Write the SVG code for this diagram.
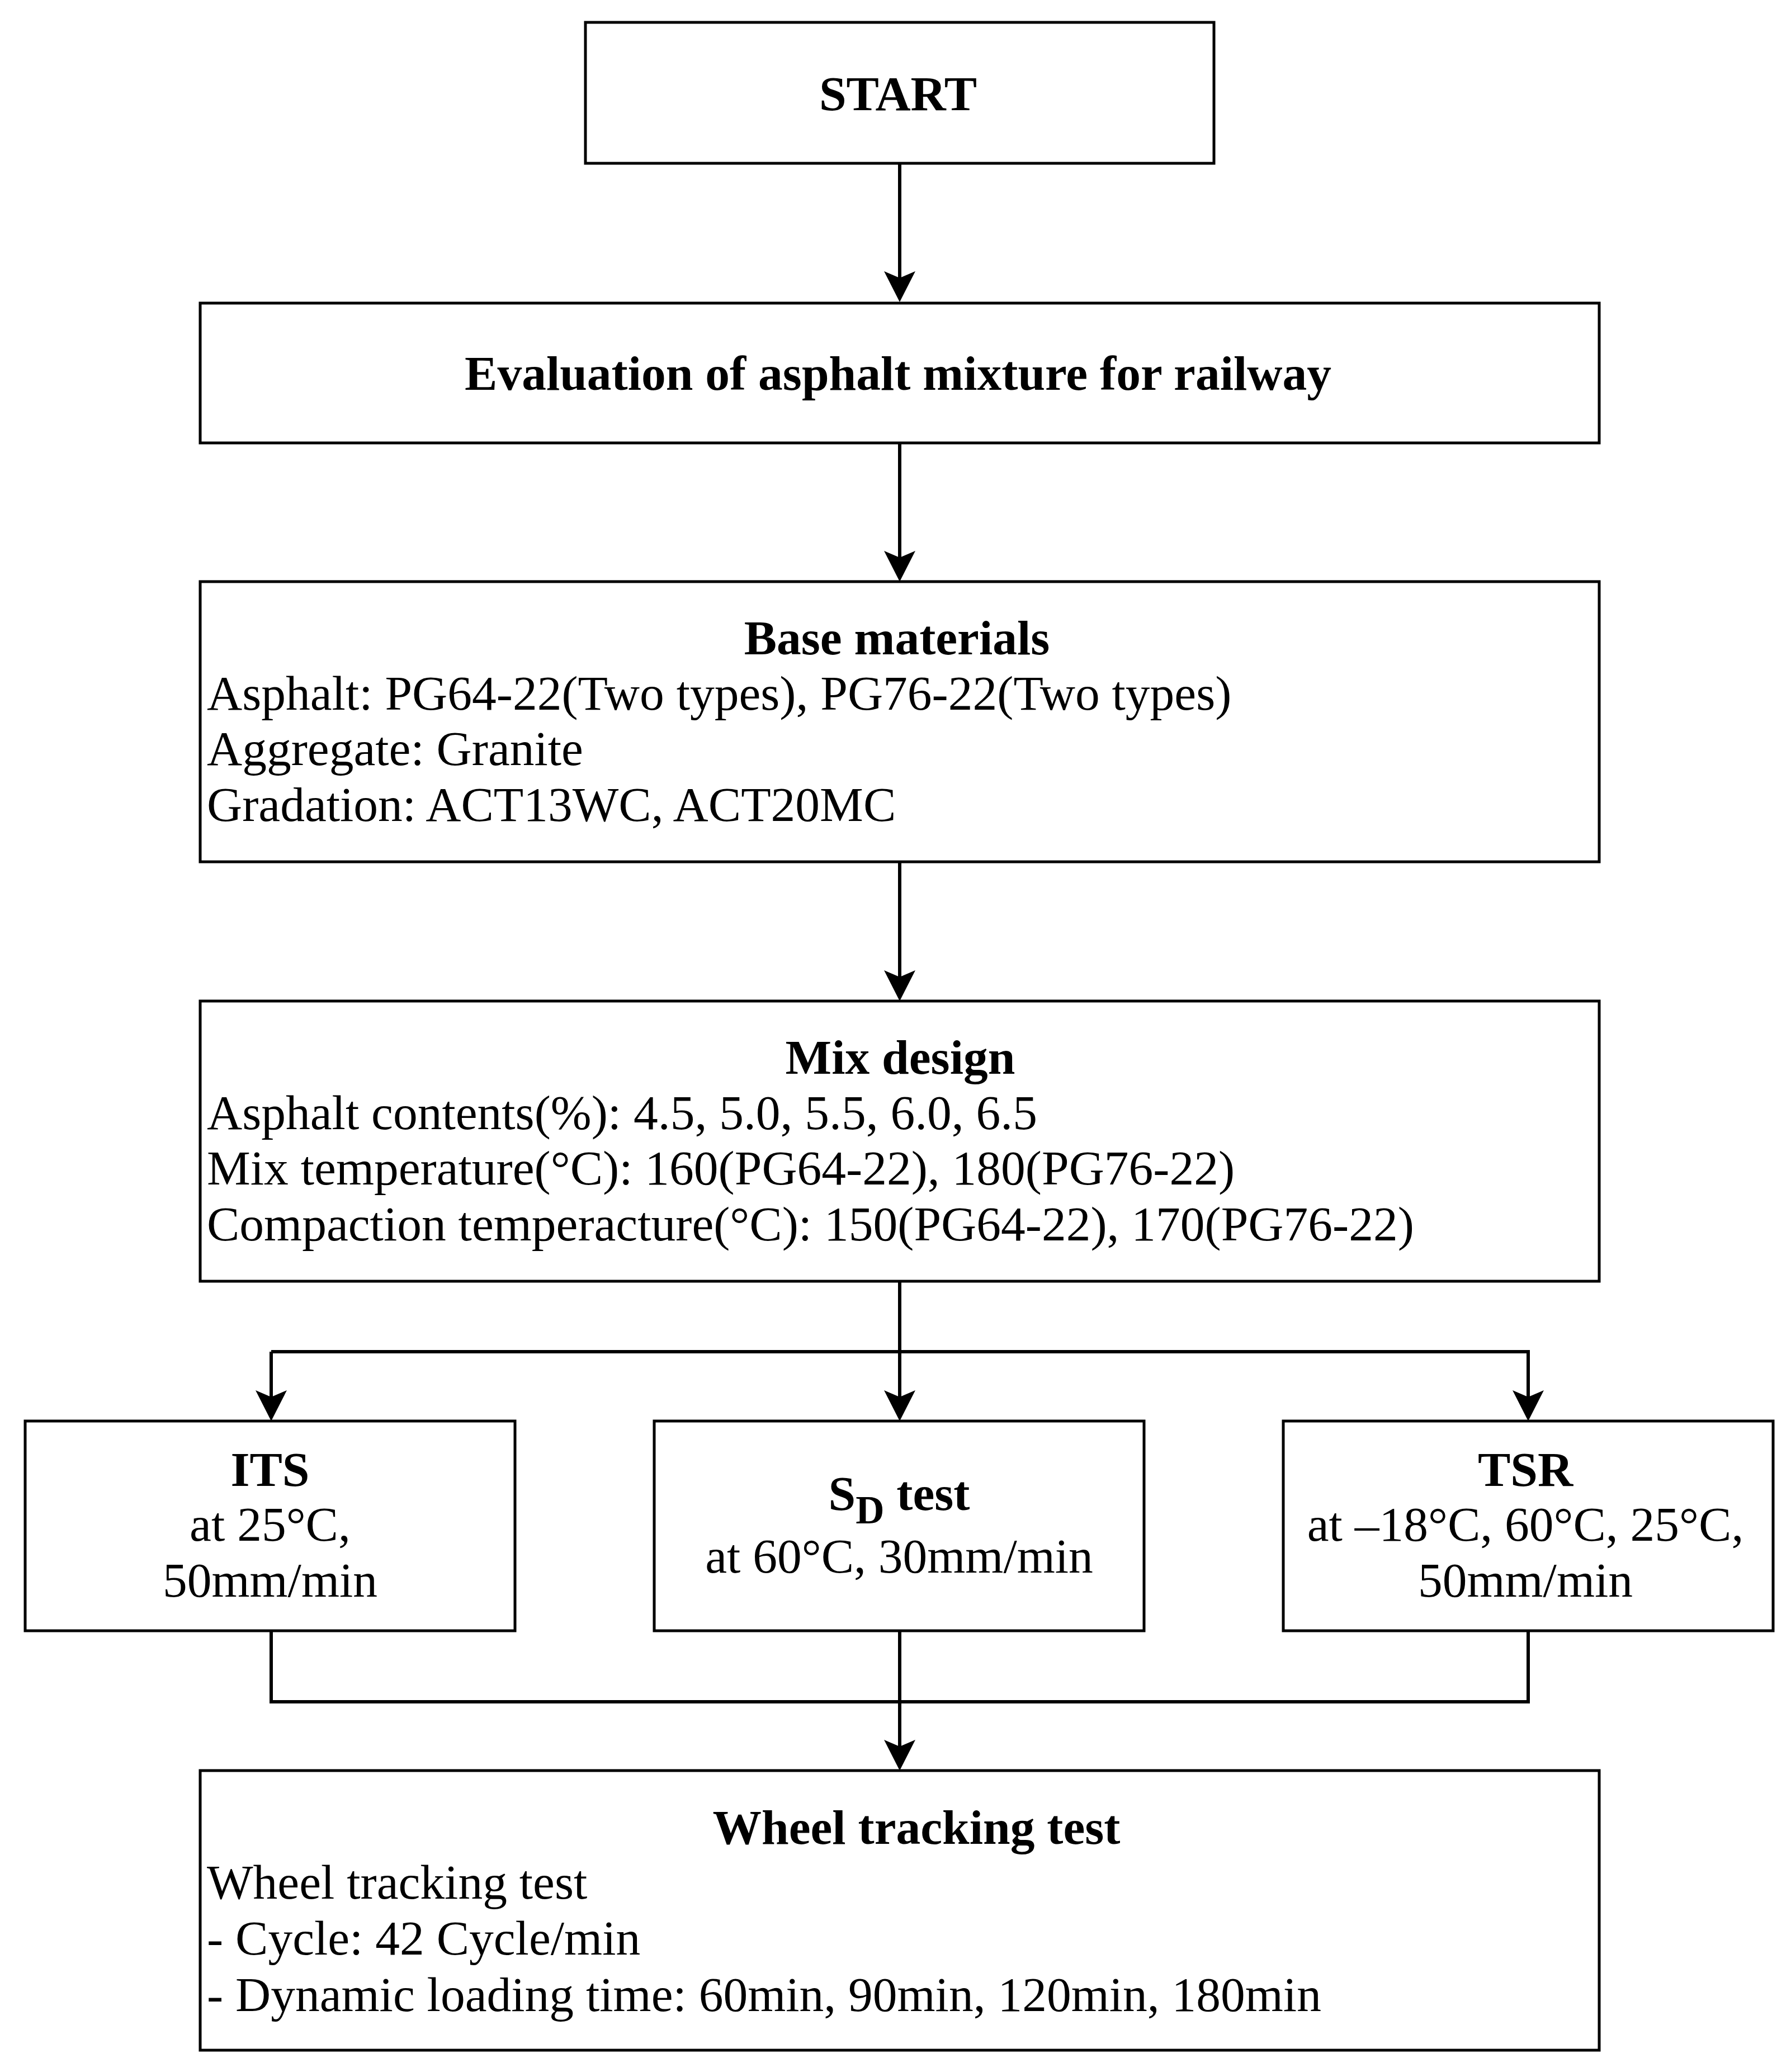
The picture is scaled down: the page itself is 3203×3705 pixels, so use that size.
<svg xmlns="http://www.w3.org/2000/svg" width="3203" height="3705" viewBox="0 0 3203 3705">
<style>
.box{fill:#fff;stroke:#000;stroke-width:5}
.t{font-family:"Liberation Serif","Times New Roman",serif;font-size:87.5px;fill:#000}
.b{font-weight:bold}
.c{text-anchor:middle}
.conn{fill:none;stroke:#000;stroke-width:6}
</style>
<defs>
<marker id="arr" markerUnits="userSpaceOnUse" markerWidth="56" markerHeight="56" viewBox="0 0 56 56" refX="25" refY="28" orient="auto">
<path d="M55,28 L0,0 L12,28 L0,56 Z" fill="#000"/>
</marker>
</defs>
<rect width="3203" height="3705" fill="#fff"/>
<g id="connectors">
<line class="conn" x1="1609" y1="292" x2="1609" y2="510" marker-end="url(#arr)"/>
<line class="conn" x1="1609" y1="792" x2="1609" y2="1010" marker-end="url(#arr)"/>
<line class="conn" x1="1609" y1="1541" x2="1609" y2="1760" marker-end="url(#arr)"/>
<line class="conn" x1="1609" y1="2291" x2="1609" y2="2511" marker-end="url(#arr)"/>
<polyline class="conn" points="485,2417 2733,2417 2733,2511" marker-end="url(#arr)"/>
<line class="conn" x1="485" y1="2417" x2="485" y2="2511" marker-end="url(#arr)"/>
<polyline class="conn" points="485,2916 485,3043 2733,3043 2733,2916"/>
<line class="conn" x1="1609" y1="2916" x2="1609" y2="3136" marker-end="url(#arr)"/>
</g>
<g id="start">
<rect class="box" x="1047" y="40" width="1124" height="252"/>
<text class="t b c" x="1606" y="197">START</text>
</g>
<g id="evaluation">
<rect class="box" x="358" y="542" width="2502" height="250"/>
<text class="t b c" x="1606" y="697">Evaluation of asphalt mixture for railway</text>
</g>
<g id="base-materials">
<rect class="box" x="358" y="1040" width="2502" height="501"/>
<text class="t b c" x="1604" y="1170">Base materials</text>
<text class="t" x="370" y="1269">Asphalt: PG64-22(Two types), PG76-22(Two types)</text>
<text class="t" x="370" y="1368">Aggregate: Granite</text>
<text class="t" x="370" y="1468">Gradation: ACT13WC, ACT20MC</text>
</g>
<g id="mix-design">
<rect class="box" x="358" y="1790" width="2502" height="501"/>
<text class="t b c" x="1610" y="1920">Mix design</text>
<text class="t" x="370" y="2019">Asphalt contents(%): 4.5, 5.0, 5.5, 6.0, 6.5</text>
<text class="t" x="370" y="2118">Mix temperature(°C): 160(PG64-22), 180(PG76-22)</text>
<text class="t" x="370" y="2218">Compaction temperacture(°C): 150(PG64-22), 170(PG76-22)</text>
</g>
<g id="its">
<rect class="box" x="45" y="2541" width="876" height="375"/>
<text class="t b c" x="483" y="2657">ITS</text>
<text class="t c" x="483" y="2755">at 25°C,</text>
<text class="t c" x="483" y="2855">50mm/min</text>
</g>
<g id="sd-test">
<rect class="box" x="1170" y="2541" width="876" height="375"/>
<text class="t b c" x="1608" y="2700">S<tspan font-size="71" dy="24">D</tspan><tspan dy="-24"> test</tspan></text>
<text class="t c" x="1608" y="2812">at 60°C, 30mm/min</text>
</g>
<g id="tsr">
<rect class="box" x="2295" y="2541" width="876" height="375"/>
<text class="t b c" x="2728" y="2657">TSR</text>
<text class="t c" x="2728" y="2755">at –18°C, 60°C, 25°C,</text>
<text class="t c" x="2728" y="2855">50mm/min</text>
</g>
<g id="wheel-tracking">
<rect class="box" x="358" y="3166" width="2502" height="500"/>
<text class="t b c" x="1639" y="3297">Wheel tracking test</text>
<text class="t" x="370" y="3395">Wheel tracking test</text>
<text class="t" x="370" y="3495">- Cycle: 42 Cycle/min</text>
<text class="t" x="370" y="3596">- Dynamic loading time: 60min, 90min, 120min, 180min</text>
</g>
</svg>
